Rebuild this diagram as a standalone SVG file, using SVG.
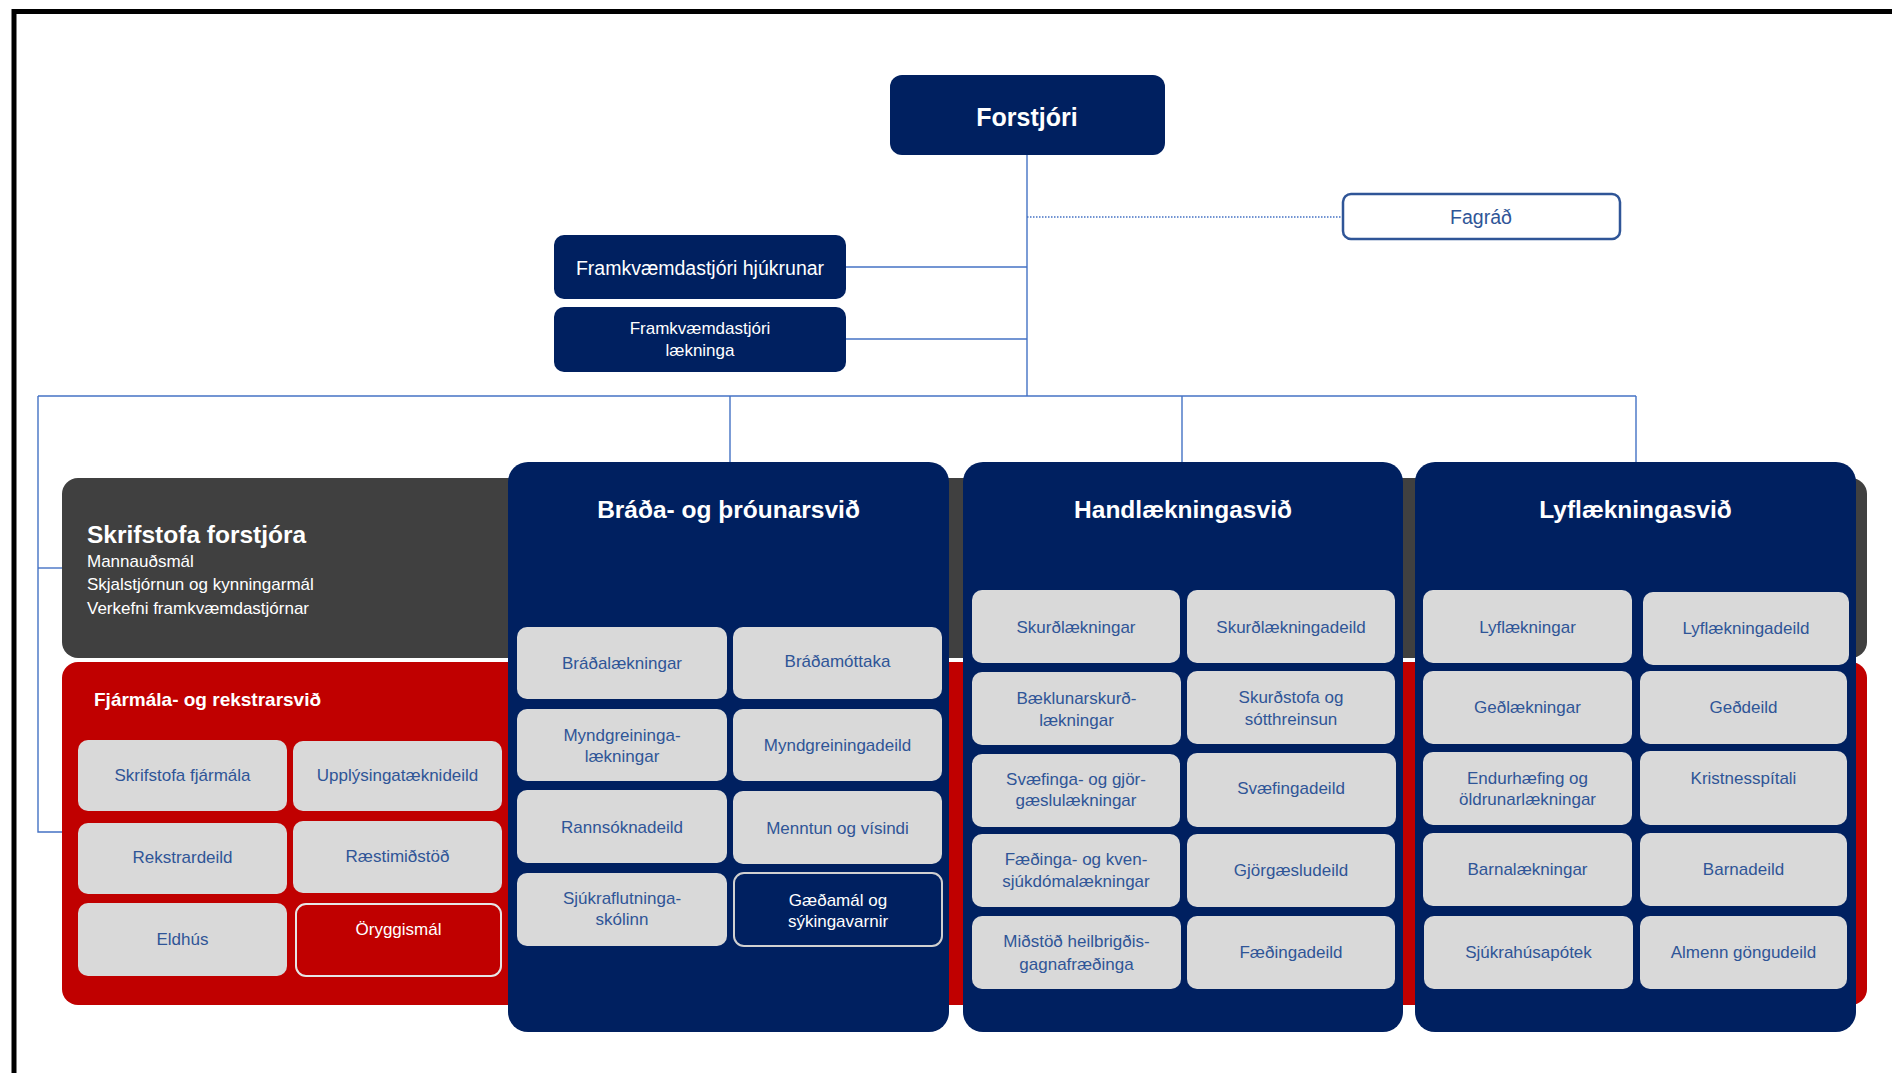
<svg xmlns="http://www.w3.org/2000/svg" width="1892" height="1073" viewBox="0 0 1892 1073">
<style>
  text { font-family: "Liberation Sans", Arial, sans-serif; }
  .frame { stroke: #000; stroke-width: 5; fill: none; }
  .ln { stroke: #4472C4; stroke-width: 1.4; fill: none; }
  .dot { stroke: #4472C4; stroke-width: 1.4; stroke-dasharray: 1.5 1.5; fill: none; }
  .navy { fill: #002060; }
  .unit { fill: #D9D9D9; }
  .t { font-size: 17px; fill: #2F5597; text-anchor: middle; }
  .tw { font-size: 17px; fill: #FFFFFF; text-anchor: middle; }
  .title { font-size: 24.5px; font-weight: bold; fill: #FFFFFF; text-anchor: middle; }
</style>
<rect x="0" y="0" width="1892" height="1073" fill="#FFFFFF"/>
<path class="frame" d="M14 1073 V11.5 H1892"/>

<g id="connectors">
  <line class="ln" x1="1027" y1="155" x2="1027" y2="396"/>
  <line class="dot" x1="1027" y1="217" x2="1343" y2="217"/>
  <line class="ln" x1="846" y1="267" x2="1027" y2="267"/>
  <line class="ln" x1="846" y1="339" x2="1027" y2="339"/>
  <line class="ln" x1="38" y1="396" x2="1636" y2="396"/>
  <polyline class="ln" points="38,396 38,832 62,832"/>
  <line class="ln" x1="38" y1="568" x2="62" y2="568"/>
  <line class="ln" x1="730" y1="396" x2="730" y2="462"/>
  <line class="ln" x1="1182" y1="396" x2="1182" y2="462"/>
  <line class="ln" x1="1636" y1="396" x2="1636" y2="462"/>
</g>

<g id="forstjori">
  <rect class="navy" x="890" y="75" width="275" height="80" rx="12"/>
  <text class="title" x="1027" y="126" style="font-size:25px">Forstjóri</text>
</g>

<g id="fagrad">
  <rect x="1343" y="194" width="277" height="45" rx="8" fill="#FFFFFF" stroke="#2F5597" stroke-width="2.5"/>
  <text x="1481" y="224" style="font-size:19.5px;fill:#2F5597;text-anchor:middle">Fagráð</text>
</g>

<g id="fkv-hjukrunar">
  <rect class="navy" x="554" y="235" width="292" height="64" rx="10"/>
  <text x="700" y="275" style="font-size:19.5px;fill:#fff;text-anchor:middle">Framkvæmdastjóri hjúkrunar</text>
</g>

<g id="fkv-laekninga">
  <rect class="navy" x="554" y="307" width="292" height="65" rx="10"/>
  <text class="tw" x="700" y="334">Framkvæmdastjóri</text>
  <text class="tw" x="700" y="356">lækninga</text>
</g>

<g id="skrifstofa-forstjora">
  <rect x="62" y="478" width="1805" height="180" rx="16" fill="#404040"/>
  <text x="87" y="543" style="font-size:24.5px;font-weight:bold;fill:#fff">Skrifstofa forstjóra</text>
  <text x="87" y="567" style="font-size:17px;fill:#fff">Mannauðsmál</text>
  <text x="87" y="590" style="font-size:17px;fill:#fff">Skjalstjórnun og kynningarmál</text>
  <text x="87" y="614" style="font-size:17px;fill:#fff">Verkefni framkvæmdastjórnar</text>
</g>

<g id="fjarmala">
  <rect x="62" y="662" width="1805" height="343" rx="16" fill="#C00000"/>
  <text x="94" y="706" style="font-size:19px;font-weight:bold;fill:#fff">Fjármála- og rekstrarsvið</text>
  <rect class="unit" x="78" y="740" width="209" height="71" rx="10"/>
  <text class="t" x="182.5" y="781">Skrifstofa fjármála</text>
  <rect class="unit" x="293" y="741" width="209" height="70" rx="10"/>
  <text class="t" x="397.5" y="781">Upplýsingatæknideild</text>
  <rect class="unit" x="78" y="823" width="209" height="71" rx="10"/>
  <text class="t" x="182.5" y="863">Rekstrardeild</text>
  <rect class="unit" x="293" y="821" width="209" height="72" rx="10"/>
  <text class="t" x="397.5" y="862">Ræstimiðstöð</text>
  <rect class="unit" x="78" y="903" width="209" height="73" rx="10"/>
  <text class="t" x="182.5" y="945">Eldhús</text>
  <rect x="296" y="904" width="205" height="72" rx="10" fill="#C00000" stroke="#E6E6E6" stroke-width="2"/>
  <text class="tw" x="398.5" y="935">Öryggismál</text>
</g>

<g id="brada">
  <rect class="navy" x="508" y="462" width="441" height="570" rx="20"/>
  <text class="title" x="728.5" y="518">Bráða- og þróunarsvið</text>
  <rect class="unit" x="517" y="627" width="210" height="72" rx="10"/>
  <text class="t" x="622" y="669">Bráðalækningar</text>
  <rect class="unit" x="733" y="627" width="209" height="72" rx="10"/>
  <text class="t" x="837.5" y="667">Bráðamóttaka</text>
  <rect class="unit" x="517" y="709" width="210" height="72" rx="10"/>
  <text class="t" x="622" y="741">Myndgreininga-</text>
  <text class="t" x="622" y="762">lækningar</text>
  <rect class="unit" x="733" y="709" width="209" height="72" rx="10"/>
  <text class="t" x="837.5" y="751">Myndgreiningadeild</text>
  <rect class="unit" x="517" y="790" width="210" height="73" rx="10"/>
  <text class="t" x="622" y="833">Rannsóknadeild</text>
  <rect class="unit" x="733" y="791" width="209" height="73" rx="10"/>
  <text class="t" x="837.5" y="834">Menntun og vísindi</text>
  <rect class="unit" x="517" y="873" width="210" height="73" rx="10"/>
  <text class="t" x="622" y="904">Sjúkraflutninga-</text>
  <text class="t" x="622" y="925">skólinn</text>
  <rect class="navy" x="734" y="873" width="208" height="73" rx="10" stroke="#D0D0D0" stroke-width="2"/>
  <text class="tw" x="838" y="906">Gæðamál og</text>
  <text class="tw" x="838" y="927">sýkingavarnir</text>
</g>

<g id="handlaekningasvid">
  <rect class="navy" x="963" y="462" width="440" height="570" rx="20"/>
  <text class="title" x="1183" y="518">Handlækningasvið</text>
  <rect class="unit" x="972" y="590" width="208" height="73" rx="10"/>
  <text class="t" x="1076" y="633">Skurðlækningar</text>
  <rect class="unit" x="1187" y="590" width="208" height="73" rx="10"/>
  <text class="t" x="1291" y="633">Skurðlækningadeild</text>
  <rect class="unit" x="972" y="672" width="209" height="73" rx="10"/>
  <text class="t" x="1076.5" y="704">Bæklunarskurð-</text>
  <text class="t" x="1076.5" y="726">lækningar</text>
  <rect class="unit" x="1187" y="671" width="208" height="73" rx="10"/>
  <text class="t" x="1291" y="703">Skurðstofa og</text>
  <text class="t" x="1291" y="725">sótthreinsun</text>
  <rect class="unit" x="972" y="754" width="208" height="73" rx="10"/>
  <text class="t" x="1076" y="785">Svæfinga- og gjör-</text>
  <text class="t" x="1076" y="806">gæslulækningar</text>
  <rect class="unit" x="1187" y="753" width="209" height="74" rx="10"/>
  <text class="t" x="1291" y="794">Svæfingadeild</text>
  <rect class="unit" x="972" y="834" width="208" height="73" rx="10"/>
  <text class="t" x="1076" y="865">Fæðinga- og kven-</text>
  <text class="t" x="1076" y="887">sjúkdómalækningar</text>
  <rect class="unit" x="1187" y="834" width="208" height="73" rx="10"/>
  <text class="t" x="1291" y="876">Gjörgæsludeild</text>
  <rect class="unit" x="972" y="916" width="209" height="73" rx="10"/>
  <text class="t" x="1076.5" y="947">Miðstöð heilbrigðis-</text>
  <text class="t" x="1076.5" y="970">gagnafræðinga</text>
  <rect class="unit" x="1187" y="916" width="208" height="73" rx="10"/>
  <text class="t" x="1291" y="958">Fæðingadeild</text>
</g>

<g id="lyflaekningasvid">
  <rect class="navy" x="1415" y="462" width="441" height="570" rx="20"/>
  <text class="title" x="1635.5" y="518">Lyflækningasvið</text>
  <rect class="unit" x="1423" y="590" width="209" height="73" rx="10"/>
  <text class="t" x="1527.5" y="633">Lyflækningar</text>
  <rect class="unit" x="1643" y="592" width="206" height="73" rx="10"/>
  <text class="t" x="1746" y="634">Lyflækningadeild</text>
  <rect class="unit" x="1423" y="671" width="209" height="73" rx="10"/>
  <text class="t" x="1527.5" y="713">Geðlækningar</text>
  <rect class="unit" x="1640" y="671" width="207" height="73" rx="10"/>
  <text class="t" x="1743.5" y="713">Geðdeild</text>
  <rect class="unit" x="1423" y="752" width="209" height="73" rx="10"/>
  <text class="t" x="1527.5" y="784">Endurhæfing og</text>
  <text class="t" x="1527.5" y="805">öldrunarlækningar</text>
  <rect class="unit" x="1640" y="751" width="207" height="74" rx="10"/>
  <text class="t" x="1743.5" y="784">Kristnesspítali</text>
  <rect class="unit" x="1423" y="833" width="209" height="73" rx="10"/>
  <text class="t" x="1527.5" y="875">Barnalækningar</text>
  <rect class="unit" x="1640" y="833" width="207" height="73" rx="10"/>
  <text class="t" x="1743.5" y="875">Barnadeild</text>
  <rect class="unit" x="1424" y="916" width="209" height="73" rx="10"/>
  <text class="t" x="1528.5" y="958">Sjúkrahúsapótek</text>
  <rect class="unit" x="1640" y="916" width="207" height="73" rx="10"/>
  <text class="t" x="1743.5" y="958">Almenn göngudeild</text>
</g>
</svg>
